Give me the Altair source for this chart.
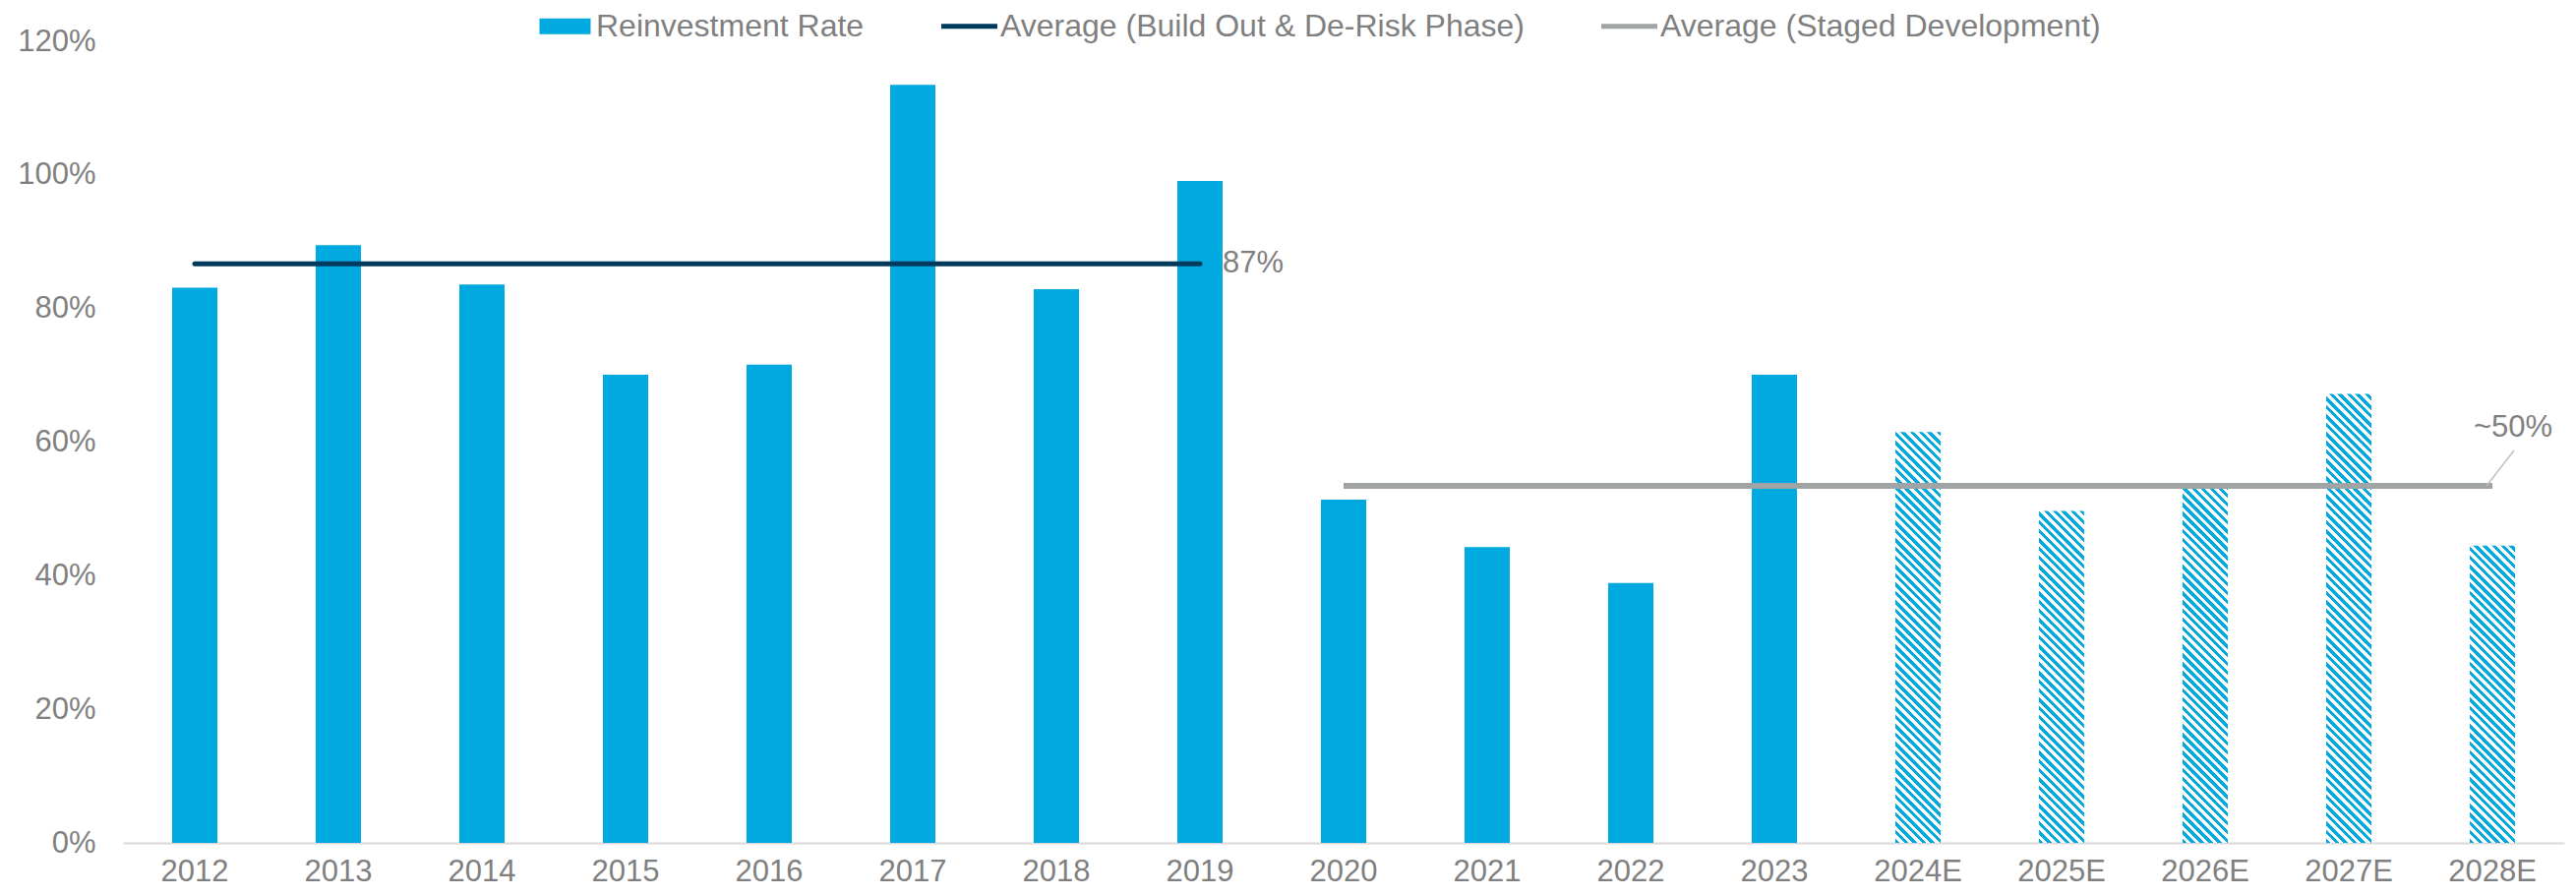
import altair as alt
import pandas as pd

years = ["2012", "2013", "2014", "2015", "2016", "2017", "2018", "2019", "2020",
         "2021", "2022", "2023", "2024E", "2025E", "2026E", "2027E", "2028E"]
rates = [0.831, 0.895, 0.836, 0.701, 0.716, 1.135, 0.829, 0.991, 0.514,
         0.443, 0.389, 0.701, 0.615, 0.497, 0.533, 0.672, 0.445]
forecast = ["2024E", "2025E", "2026E", "2027E", "2028E"]

build_years = ["2012", "2019"]
build_avg = [0.867, 0.867]
staged_years = ["2020", "2028E"]
staged_avg = [0.5345, 0.5345]

S_BAR = "Reinvestment Rate"
S_BUILD = "Average (Build Out & De-Risk Phase)"
S_STAGED = "Average (Staged Development)"

BLUE = "#00A9E0"
NAVY = "#003A5D"
GREY = "#A0A4A4"
TXT = "#7F7F7F"
FONT = "Liberation Sans"
FS = 31

W = 2482
H = 815
BW = 46
P = 9.0

df = pd.DataFrame({"year": years, "value": rates,
                   "kind": ["forecast" if y in forecast else "actual" for y in years],
                   "series": S_BAR})
df_build = pd.DataFrame({"year": build_years, "value": build_avg, "series": S_BUILD})
df_staged = pd.DataFrame({"year": staged_years, "value": staged_avg, "series": S_STAGED})

xscale = alt.Scale(domain=years, paddingInner=0, paddingOuter=0)
yscale = alt.Scale(domain=[0, 1.2], nice=False)
cscale = alt.Scale(domain=[S_BAR, S_BUILD, S_STAGED], range=[BLUE, NAVY, GREY])

x_enc = alt.X("year:N", sort=years, scale=xscale,
              axis=alt.Axis(title=None, labelAngle=0, ticks=False, domainColor="#D9D9D9",
                            domainWidth=2, labelFont=FONT, labelFontSize=FS, labelColor=TXT,
                            labelPadding=14))
y_enc = alt.Y("value:Q", scale=yscale,
              axis=alt.Axis(title=None, values=[0, 0.2, 0.4, 0.6, 0.8, 1.0, 1.2], format=".0%",
                            grid=False, domain=False, ticks=False, labelPadding=28,
                            labelFont=FONT, labelFontSize=FS, labelColor=TXT))

bar_shape = "M-0.912,-0.281H0.912V0.281H-0.912Z"
line_shape = "M-1,-0.088H1V0.088H-1Z"
shape_expr = "datum.value === '%s' ? '%s' : '%s'" % (S_BAR, bar_shape, line_shape)

legend = alt.Legend(orient="none", legendX=421, legendY=-44, direction="horizontal",
                    title=None, padding=0, labelFont=FONT, labelFontSize=32, labelColor=TXT,
                    labelLimit=1000, labelOffset=3, columnPadding=78, symbolSize=3249,
                    symbolStrokeWidth=0, symbolType={"expr": shape_expr})

actual = alt.Chart(df).transform_filter(alt.datum.kind == "actual").mark_bar(size=BW).encode(
    x=x_enc, y=y_enc,
    color=alt.Color("series:N", scale=cscale, legend=legend))


def hatch(v):
    h = v / 1.2 * H
    r = h / BW
    denom = BW * (1 + r * r)
    smax = BW + h
    cols = [BLUE, "#FFFFFF"]
    c = 0
    s = 0.0
    stops = [{"offset": 0, "color": cols[0]}]
    while s < smax:
        s += P / 2
        o = round(min(s / denom, 1.0), 6)
        stops.append({"offset": o, "color": cols[c]})
        c ^= 1
        stops.append({"offset": o, "color": cols[c]})
    return {"gradient": "linear", "x1": 0, "y1": 1, "x2": 1, "y2": 1 - r, "stops": stops}


fc_layers = []
for yr in forecast:
    v = rates[years.index(yr)]
    fc_layers.append(
        alt.Chart(df).transform_filter(alt.datum.year == yr).mark_bar(size=BW, color=hatch(v)).encode(
            x=x_enc, y=y_enc))

build = alt.Chart(df_build).mark_line(strokeWidth=5, strokeCap="round").encode(
    x=x_enc, y=y_enc, color=alt.Color("series:N", scale=cscale, legend=None))
staged = alt.Chart(df_staged).mark_line(strokeWidth=6).encode(
    x=x_enc, y=y_enc, color=alt.Color("series:N", scale=cscale, legend=None))

lab87 = alt.Chart(df_build.iloc[[1]]).mark_text(
    text="87%", align="left", baseline="middle", dx=23, font=FONT, fontSize=FS, color=TXT).encode(
    x=x_enc, y=y_enc)

lead_df = pd.DataFrame({"year": ["2028E"], "value": [staged_avg[1]]})
leader = alt.Chart(lead_df).mark_rule(color="#BFBFBF", strokeWidth=1.5, xOffset=-6, x2Offset=22,
                                      y2Offset=-36).encode(
    x=x_enc, x2="year:N", y=y_enc, y2="value:Q")
lab50 = alt.Chart(lead_df).mark_text(
    text="~50%", align="center", baseline="middle", dx=21, dy=-59, font=FONT, fontSize=FS,
    color=TXT).encode(x=x_enc, y=y_enc)

chart = alt.layer(actual, *fc_layers, build, staged, leader, lab87, lab50).properties(
    width=W, height=H,
    autosize=alt.AutoSizeParams(type="none"),
    padding={"left": 117, "top": 34, "right": 4, "bottom": 46},
    background="white",
).configure_view(stroke=None)

chart.save("out.html", embed_options={"renderer": "svg", "actions": False})
